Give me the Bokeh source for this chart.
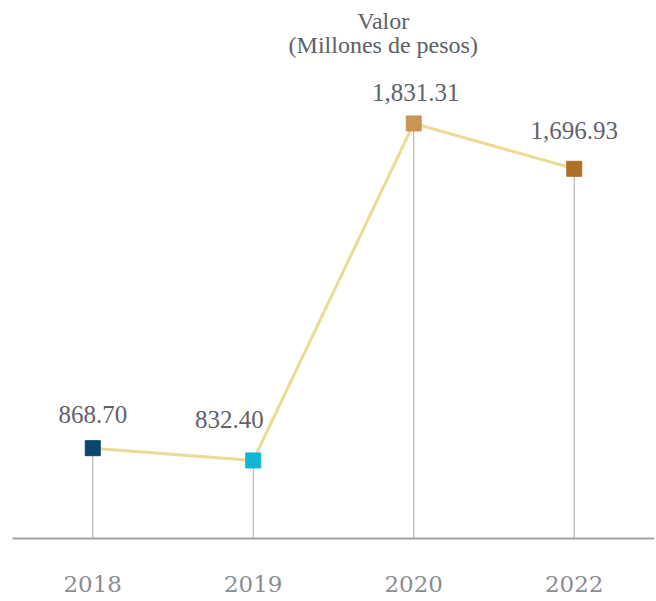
from bokeh.plotting import figure
from bokeh.models import FactorRange, Range1d, ColumnDataSource, Label
from bokeh.embed import file_html
from bokeh.resources import INLINE

years = ["2018", "2019", "2020", "2022"]
values = [868.70, 832.40, 1831.31, 1696.93]
value_labels = ["868.70", "832.40", "1,831.31", "1,696.93"]
marker_colors = ["#0c466b", "#12b5d6", "#c99557", "#b06f27"]
label_dx = [0, -24, 2, 0]
label_dy = [-34, -41, -31, -38]
title_lines = ["Valor", "(Millones de pesos)"]

y_start = 601
y_end = 2172

p = figure(
    width=654, height=596,
    x_range=FactorRange(factors=years, range_padding=0),
    y_range=Range1d(y_start, y_end),
    output_backend="svg", toolbar_location=None,
    min_border_left=12, min_border_right=0, min_border_top=8, min_border_bottom=58,
)
p.outline_line_color = None
p.background_fill_color = "white"
p.border_fill_color = "white"
p.xgrid.visible = False
p.ygrid.visible = False
p.yaxis.visible = False

src = ColumnDataSource(dict(
    x=years, y=values, base=[y_start] * len(years), lab=value_labels,
    c=marker_colors, dx=label_dx, dy=label_dy,
))

p.segment(x0="x", y0="base", x1="x", y1="y", source=src, line_color="#a8a8a8", line_width=1)
p.line(x="x", y="y", source=src, line_color="#ebdb94", line_width=3)
p.scatter(x="x", y="y", source=src, marker="square", size=15, fill_color="c", line_color="c")
p.text(x="x", y="y", text="lab", source=src, x_offset="dx", y_offset="dy",
       text_align="center", text_baseline="alphabetic",
       text_font={"value": "Liberation Serif"}, text_font_size="25px", text_color="#5f6369")

xa = p.xaxis[0]
xa.axis_line_color = "#a3a3a3"
xa.axis_line_width = 2
xa.major_tick_line_color = None
xa.minor_tick_line_color = None
xa.major_label_standoff = 31
xa.major_label_text_font = "DejaVu Serif"
xa.major_label_text_font_size = "23px"
xa.major_label_text_color = "#8a8d92"

p.add_layout(Label(x=2.31, y=2136, text=title_lines[0], text_align="center",
                   text_baseline="alphabetic", text_font="Liberation Serif",
                   text_font_size="24px", text_color="#5d6167"))
p.add_layout(Label(x=2.31, y=2065, text=title_lines[1], text_align="center",
                   text_baseline="alphabetic", text_font="Liberation Serif",
                   text_font_size="24px", text_color="#5d6167"))

open("out.html", "w").write(file_html(p, INLINE))
